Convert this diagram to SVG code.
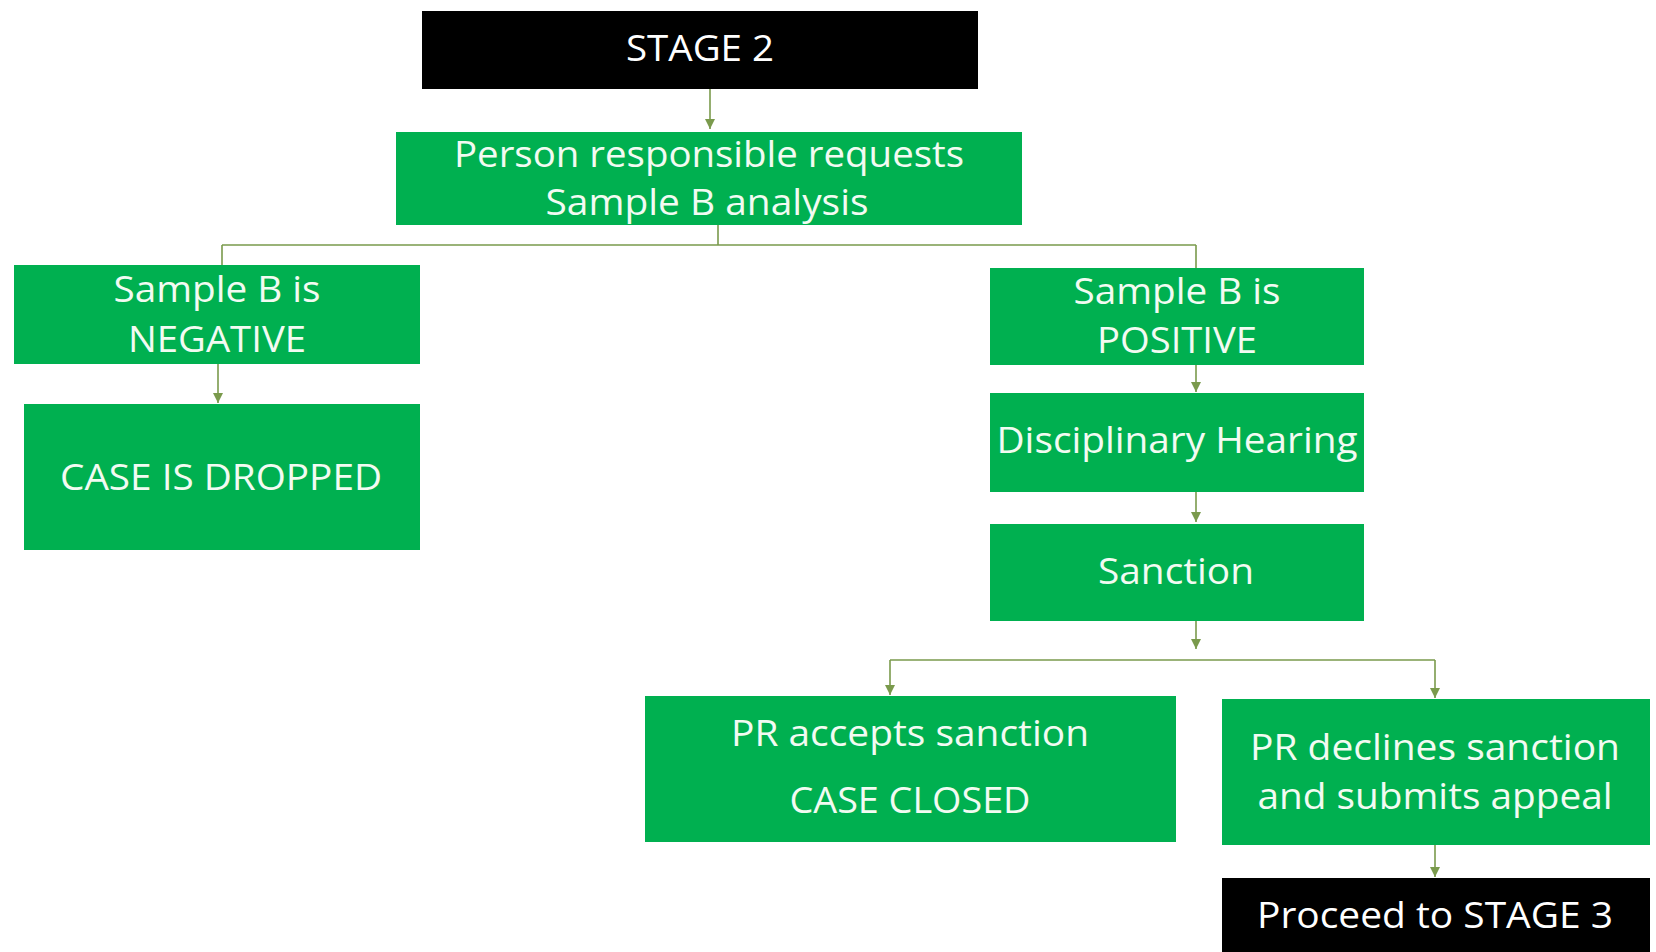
<svg xmlns="http://www.w3.org/2000/svg" width="1656" height="952" viewBox="0 0 1656 952">
<style>
.g{fill:#00B050}
.k{fill:#000000}
.t{font-family:"Open Sans","Liberation Sans",sans-serif;font-size:36px;fill:#F2FBF2;text-anchor:middle}
.w{fill:#FFFFFF}
.c{fill:none;stroke:#7A9A4C;stroke-width:1.6}
.a{marker-end:url(#ah)}
</style>
<defs>
<marker id="ah" markerUnits="userSpaceOnUse" markerWidth="10" markerHeight="10" viewBox="0 0 10 10" refX="10" refY="5" orient="auto">
<path d="M0,0 L10,5 L0,10 Z" fill="#7A9A4C"/>
</marker>
</defs>
<rect width="1656" height="952" fill="#FFFFFF"/>
<g id="connectors">
<path class="c a" d="M710,89 V129"/>
<path class="c" d="M718,225 V245 M222,245 H1196 M222,245 V265 M1196,245 V268"/>
<path class="c a" d="M218,364 V403"/>
<path class="c a" d="M1196,365 V392"/>
<path class="c a" d="M1196,492 V522"/>
<path class="c a" d="M1196,621 V649"/>
<path class="c" d="M890,660 H1435"/>
<path class="c a" d="M890,660 V695"/>
<path class="c a" d="M1435,660 V698"/>
<path class="c a" d="M1435,845 V877"/>
</g>
<g id="stage2"><rect class="k" x="422" y="11" width="556" height="78"/><text class="t w" x="700" y="61" textLength="148" lengthAdjust="spacingAndGlyphs">STAGE 2</text></g>
<g id="request"><rect class="g" x="396" y="132" width="626" height="93"/><text class="t" x="709" y="167" textLength="510" lengthAdjust="spacingAndGlyphs">Person responsible requests</text><text class="t" x="707" y="215" textLength="323" lengthAdjust="spacingAndGlyphs">Sample B analysis</text></g>
<g id="negative"><rect class="g" x="14" y="265" width="406" height="99"/><text class="t" x="217" y="302" textLength="207" lengthAdjust="spacingAndGlyphs">Sample B is</text><text class="t" x="217" y="352" textLength="178" lengthAdjust="spacingAndGlyphs">NEGATIVE</text></g>
<g id="dropped"><rect class="g" x="24" y="404" width="396" height="146"/><text class="t" x="221" y="490" textLength="322" lengthAdjust="spacingAndGlyphs">CASE IS DROPPED</text></g>
<g id="positive"><rect class="g" x="990" y="268" width="374" height="97"/><text class="t" x="1177" y="304" textLength="207" lengthAdjust="spacingAndGlyphs">Sample B is</text><text class="t" x="1177" y="353" textLength="160" lengthAdjust="spacingAndGlyphs">POSITIVE</text></g>
<g id="hearing"><rect class="g" x="990" y="393" width="374" height="99"/><text class="t" x="1177" y="453" textLength="361" lengthAdjust="spacingAndGlyphs">Disciplinary Hearing</text></g>
<g id="sanction"><rect class="g" x="990" y="524" width="374" height="97"/><text class="t" x="1176" y="584" textLength="156" lengthAdjust="spacingAndGlyphs">Sanction</text></g>
<g id="accepts"><rect class="g" x="645" y="696" width="531" height="146"/><text class="t" x="910" y="746" textLength="358" lengthAdjust="spacingAndGlyphs">PR accepts sanction</text><text class="t" x="910" y="813" textLength="241" lengthAdjust="spacingAndGlyphs">CASE CLOSED</text></g>
<g id="declines"><rect class="g" x="1222" y="699" width="428" height="146"/><text class="t" x="1435" y="760" textLength="370" lengthAdjust="spacingAndGlyphs">PR declines sanction</text><text class="t" x="1435" y="809" textLength="355" lengthAdjust="spacingAndGlyphs">and submits appeal</text></g>
<g id="stage3"><rect class="k" x="1222" y="878" width="428" height="74"/><text class="t w" x="1435" y="928" textLength="356" lengthAdjust="spacingAndGlyphs">Proceed to STAGE 3</text></g>
</svg>
